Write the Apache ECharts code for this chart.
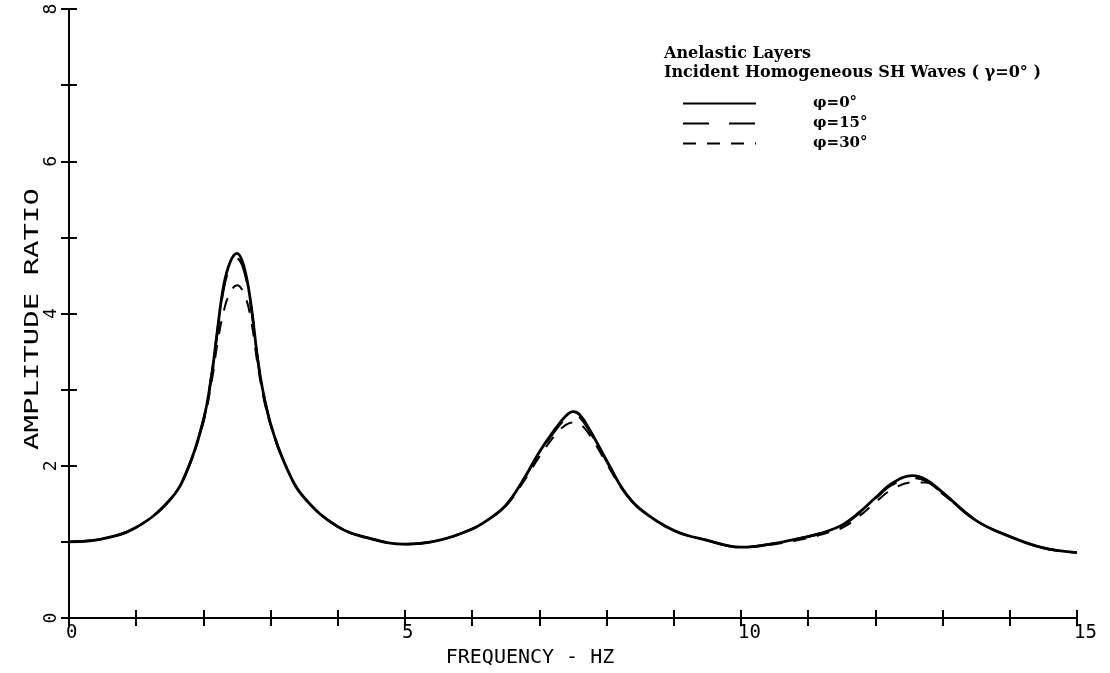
<!DOCTYPE html>
<html>
<head>
<meta charset="utf-8">
<script src="https://cdn.jsdelivr.net/npm/echarts@6/dist/echarts.min.js"></script>
<style>
  html, body { margin: 0; padding: 0; background: #ffffff; }
  #chart { width: 1110px; height: 673px; }
</style>
</head>
<body>
<div id="chart"></div>
<script>
// Frequency samples (Hz)
const freq = [0, 0.5, 1.0, 1.5, 1.75, 2.0, 2.13, 2.2, 2.3, 2.4, 2.5, 2.6, 2.7, 2.84, 3.0, 3.25, 3.5, 4.0, 4.5,
  5.0, 5.5, 6.0, 6.25, 6.5, 6.75, 7.0, 7.25, 7.4, 7.5, 7.6, 7.75, 8.0, 8.25, 8.5, 9.0, 9.5,
  10.0, 10.5, 11.0, 11.25, 11.5, 11.75, 12.0, 12.25, 12.55, 12.75, 13.0, 13.5, 14.0, 14.5, 15.0];

// Amplitude ratio, phi = 0 deg
const ampPhi0 = [1.00, 1.04, 1.19, 1.55, 1.92, 2.60, 3.24, 3.72, 4.36, 4.68, 4.79, 4.63, 4.17, 3.21, 2.55, 1.95, 1.58, 1.20, 1.04,
  0.97, 1.02, 1.17, 1.30, 1.48, 1.80, 2.18, 2.50, 2.66, 2.71, 2.67, 2.47, 2.07, 1.68, 1.43, 1.15, 1.02,
  0.93, 0.98, 1.07, 1.13, 1.22, 1.38, 1.58, 1.77, 1.87, 1.82, 1.65, 1.28, 1.07, 0.92, 0.86];

// Amplitude ratio, phi = 15 deg
const ampPhi15 = [1.00, 1.04, 1.19, 1.55, 1.92, 2.60, 3.23, 3.70, 4.32, 4.62, 4.72, 4.58, 4.14, 3.21, 2.55, 1.95, 1.58, 1.20, 1.04,
  0.97, 1.02, 1.17, 1.30, 1.48, 1.80, 2.17, 2.48, 2.63, 2.68, 2.64, 2.45, 2.06, 1.68, 1.43, 1.15, 1.02,
  0.93, 0.98, 1.07, 1.13, 1.21, 1.37, 1.57, 1.75, 1.84, 1.80, 1.64, 1.28, 1.07, 0.92, 0.86];

// Amplitude ratio, phi = 30 deg
const ampPhi30 = [1.00, 1.04, 1.19, 1.55, 1.92, 2.57, 3.14, 3.56, 4.02, 4.28, 4.37, 4.27, 3.96, 3.15, 2.53, 1.95, 1.58, 1.20, 1.04,
  0.97, 1.02, 1.17, 1.30, 1.47, 1.77, 2.12, 2.42, 2.54, 2.57, 2.55, 2.40, 2.03, 1.67, 1.43, 1.15, 1.02,
  0.93, 0.97, 1.05, 1.11, 1.18, 1.33, 1.52, 1.69, 1.78, 1.78, 1.63, 1.28, 1.07, 0.92, 0.86];

const seriesNames = ['\u03c6=0\u00b0', '\u03c6=15\u00b0', '\u03c6=30\u00b0'];
const xTickLabels = [0, 5, 10, 15];
const yTickLabels = [0, 2, 4, 6, 8];

const plotFont = 'DejaVu Sans Mono';
const noteFont = 'DejaVu Serif';

function pairs(ys) {
  return freq.map((f, i) => [f, ys[i]]);
}

const chart = echarts.init(document.getElementById('chart'), null, { renderer: 'canvas' });

const frameLine = { show: true, lineStyle: { color: '#000', width: 2 } };
const tickIn = { show: true, inside: true, length: 8, lineStyle: { color: '#000', width: 2 } };

chart.setOption({
  animation: false,
  backgroundColor: '#ffffff',
  grid: { left: 69, right: 33, top: 9, bottom: 44, containLabel: false },
  title: {
    text: 'Anelastic Layers\nIncident Homogeneous SH Waves ( \u03b3=0\u00b0 )',
    left: 664,
    top: 44,
    padding: 0,
    textStyle: { fontFamily: noteFont, fontWeight: 'bold', fontSize: 16, color: '#000', lineHeight: 19 }
  },
  legend: {
    data: seriesNames,
    orient: 'vertical',
    left: 682,
    top: 96,
    padding: 0,
    itemWidth: 73,
    itemHeight: 14,
    itemGap: 5,
    itemStyle: { opacity: 0 },
    textStyle: { fontFamily: noteFont, fontWeight: 'bold', fontSize: 15, lineHeight: 14, color: '#000', padding: [0, 0, 0, 52] }
  },
  graphic: [
    {
      // vertical axis title, drawn long and narrow like the plotter lettering
      type: 'text', x: 33, y: 319, rotation: Math.PI / 2, scaleX: 1.45, scaleY: 1,
      style: {
        text: 'AMPLITUDE RATIO', fill: '#000', font: '20px "DejaVu Sans Mono"',
        align: 'center', verticalAlign: 'middle'
      }
    }
  ],
  xAxis: [
    {
      type: 'value', min: 0, max: 15, interval: 1, position: 'bottom',
      axisLine: frameLine, axisTick: tickIn, splitLine: { show: false },
      axisLabel: {
        margin: 6, fontFamily: plotFont, fontSize: 19, color: '#000', align: 'left',
        padding: [0, 0, 0, -3],
        formatter: v => (xTickLabels.indexOf(v) >= 0 ? String(v) : '')
      },
      name: 'FREQUENCY - HZ', nameLocation: 'middle', nameGap: 30,
      nameTextStyle: { fontFamily: plotFont, fontSize: 20, color: '#000', padding: [0, 86, 0, 0] }
    },
    {
      type: 'value', min: 0, max: 15, interval: 1, position: 'top',
      axisLine: frameLine, axisTick: tickIn, axisLabel: { show: false }, splitLine: { show: false }
    }
  ],
  yAxis: [
    {
      type: 'value', min: 0, max: 8, interval: 1, position: 'left',
      axisLine: frameLine, axisTick: tickIn, splitLine: { show: false },
      axisLabel: {
        margin: 9, rotate: 90, fontFamily: plotFont, fontSize: 18, color: '#000',
        formatter: v => (yTickLabels.indexOf(v) >= 0 ? String(v) : '')
      }
    },
    {
      type: 'value', min: 0, max: 8, interval: 1, position: 'right',
      axisLine: frameLine, axisTick: tickIn, axisLabel: { show: false }, splitLine: { show: false }
    }
  ],
  series: [
    {
      name: seriesNames[0], type: 'line', data: pairs(ampPhi0), smooth: 0.4, symbol: 'none',
      lineStyle: { color: '#000', width: 2.8, type: 'solid' }, itemStyle: { color: '#000' }, z: 3
    },
    {
      name: seriesNames[1], type: 'line', data: pairs(ampPhi15), smooth: 0.4, symbol: 'none',
      lineStyle: { color: '#000', width: 2.5, type: [26, 20] }, itemStyle: { color: '#000' }, z: 2
    },
    {
      name: seriesNames[2], type: 'line', data: pairs(ampPhi30), smooth: 0.4, symbol: 'none',
      lineStyle: { color: '#000', width: 2.0, type: [13, 11] }, itemStyle: { color: '#000' }, z: 1
    }
  ]
});
</script>
</body>
</html>
